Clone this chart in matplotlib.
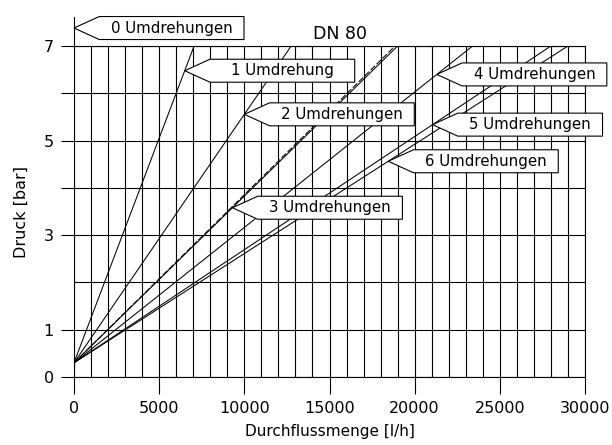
import numpy as np
import matplotlib.pyplot as plt
from matplotlib.patches import Polygon

# characteristic lines DN 80: flow at 7 bar for each number of turns, all start at ~0.3 bar
turns = [1, 2, 3, 4, 5, 6]
flow_at_7bar = [7050, 12750, 19000, 23400, 28000, 29000]
p_start = 0.3
p_end = 7.0
# second (dashed) trace that runs next to the 3-turn line
dashed_flow_at_7bar = 18850

label_texts = ["0 Umdrehungen", "1 Umdrehung", "2 Umdrehungen", "3 Umdrehungen",
               "4 Umdrehungen", "5 Umdrehungen", "6 Umdrehungen"]
label_flow = [0, 6500, 10000, 9300, 21300, 21050, 18450]  # where the arrow points
zero_turn_p = 7.38

x_major = [0, 5000, 10000, 15000, 20000, 25000, 30000]
y_ticks = [0, 1, 3, 4, 5, 6, 7]
y_labels = ["0", "1", "3", "", "5", "", "7"]

fig = plt.figure(figsize=(6.12, 4.45), dpi=100)
ax = fig.add_axes([74/612, 1-377/445, (585-74)/612, (377-46)/445])

for q7 in flow_at_7bar:
    ax.plot([0, q7], [p_start, p_end], color="black", lw=0.75, zorder=3)
ax.plot([0, dashed_flow_at_7bar], [p_start, p_end], color="black", lw=0.75, ls=(0, (6, 2)), zorder=3)

ax.set_xlim(0, 30000)
ax.set_ylim(0, 7)
ax.set_xticks(x_major)
ax.set_xticks(np.arange(0, 30001, 1000), minor=True)
ax.set_yticks(y_ticks, y_labels)
ax.set_yticks(np.arange(0, 8, 1), minor=True)
ax.grid(True, which="both", color="black", lw=0.8)
ax.tick_params(axis="x", which="major", length=12, width=0.8, pad=5, labelsize=11.5)
ax.tick_params(axis="y", which="major", length=9.5, width=0.8, pad=5, labelsize=11.5)
ax.tick_params(which="minor", length=0)
for s in ax.spines.values():
    s.set_linewidth(0.8)

ax.set_xlabel("Durchflussmenge [l/h]", fontsize=11, labelpad=6)
ax.set_ylabel("Druck [bar]", fontsize=11.5, labelpad=11)
ax.set_title("DN 80", fontsize=12.5, pad=5, x=0.52)

# arrow shaped label boxes
body_w = 8500
arrow_len = 1480
half_h = 0.243
for i, txt in enumerate(label_texts):
    q = label_flow[i]
    if i == 0:
        # 0 turns = closed valve, vertical line at zero flow
        p = zero_turn_p
        ax.plot([0, 0], [p_end, p + half_h], color="black", lw=0.8, clip_on=False)
    else:
        p = p_start + (p_end - p_start) * q / flow_at_7bar[i - 1]
    x0 = q + arrow_len
    pts = [(q, p), (x0, p + half_h), (x0 + body_w, p + half_h),
           (x0 + body_w, p - half_h), (x0, p - half_h)]
    ax.add_patch(Polygon(pts, closed=True, facecolor="white", edgecolor="black",
                         lw=0.8, clip_on=False, zorder=5))
    ax.text(x0 + body_w / 2, p, txt, ha="center", va="center", fontsize=10.8, zorder=6)

fig.savefig("out.png", dpi=100)
